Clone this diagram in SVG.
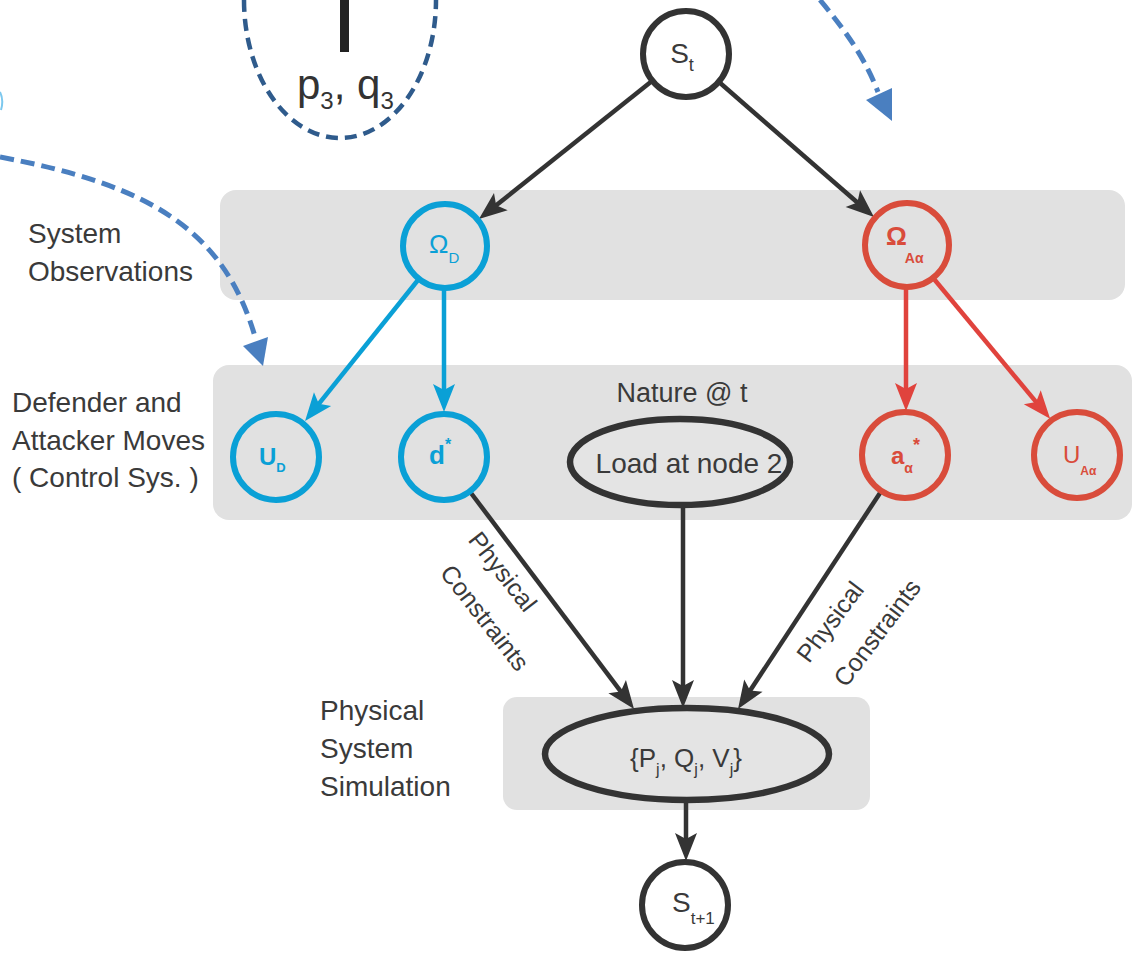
<svg xmlns="http://www.w3.org/2000/svg" width="1134" height="953" viewBox="0 0 1134 953">
<defs>
<style>
.band{fill:#e1e1e1}
.lbl{font-family:"Liberation Sans",Arial,sans-serif;font-size:28px;fill:#3a3a3a}
.ctr{font-family:"Liberation Sans",Arial,sans-serif;fill:#3a3a3a;text-anchor:middle}
.dk{fill:none;stroke:#333;stroke-width:6}
.bl{fill:none;stroke:#0aa0d6;stroke-width:6}
.rd{fill:none;stroke:#d94c3b;stroke-width:6}
.ln{stroke-width:4.5;fill:none}
.dash{fill:none;stroke:#4a7fc0;stroke-width:5;stroke-dasharray:14 7}
</style>
<marker id="ak" viewBox="0 -12 30 24" refX="16" refY="0" markerWidth="30" markerHeight="24" markerUnits="userSpaceOnUse" orient="auto"><path d="M30,0 L2,-11 L8,0 L2,11 Z" fill="#333"/></marker>
<marker id="ab" viewBox="0 -12 30 24" refX="16" refY="0" markerWidth="30" markerHeight="24" markerUnits="userSpaceOnUse" orient="auto"><path d="M30,0 L2,-11 L8,0 L2,11 Z" fill="#0aa0d6"/></marker>
<marker id="ar" viewBox="0 -12 30 24" refX="16" refY="0" markerWidth="30" markerHeight="24" markerUnits="userSpaceOnUse" orient="auto"><path d="M30,0 L2,-11 L8,0 L2,11 Z" fill="#e0433d"/></marker>
</defs>
<rect width="1134" height="953" fill="#ffffff"/>

<g id="bands">
<rect class="band" x="220" y="190" width="905" height="110" rx="16"/>
<rect class="band" x="213" y="365" width="919" height="155" rx="16"/>
<rect class="band" x="503" y="697" width="367" height="113" rx="14"/>
</g>

<g id="top-fragment">
<path d="M244,0 A96,138 0 0 0 436,0" fill="none" stroke="#2f5b8c" stroke-width="4.5" stroke-dasharray="12 7"/>
<rect x="340" y="0" width="9" height="52" fill="#222"/>
<text x="297" y="99" font-family="Liberation Sans,Arial,sans-serif" font-size="42" fill="#333">p<tspan font-size="24" dy="10">3</tspan><tspan dy="-10">, q</tspan><tspan font-size="24" dy="10">3</tspan></text>
<path d="M0,92 Q4,100 1,110" fill="none" stroke="#7cc8ee" stroke-width="2"/>
</g>

<g id="side-labels">
<text class="lbl" x="28" y="243">System</text>
<text class="lbl" x="28" y="281">Observations</text>
<text class="lbl" x="12" y="412">Defender and</text>
<text class="lbl" x="12" y="450">Attacker Moves</text>
<text class="lbl" x="12" y="487">( Control Sys. )</text>
<text class="lbl" x="320" y="720">Physical</text>
<text class="lbl" x="320" y="758">System</text>
<text class="lbl" x="320" y="796">Simulation</text>
</g>

<g id="connectors">
<line class="ln" stroke="#333" x1="652" y1="81" x2="489.9" y2="210.3" marker-end="url(#ak)"/>
<line class="ln" stroke="#333" x1="719" y1="82" x2="863.4" y2="207.8" marker-end="url(#ak)"/>
<line class="ln" stroke="#0aa0d6" x1="418" y1="280" x2="313.8" y2="410.1" marker-end="url(#ab)"/>
<line class="ln" stroke="#0aa0d6" x1="444" y1="289" x2="444" y2="398" marker-end="url(#ab)"/>
<line class="ln" stroke="#e0433d" x1="906" y1="289" x2="906" y2="397" marker-end="url(#ar)"/>
<line class="ln" stroke="#e0433d" x1="934" y1="279" x2="1041.2" y2="408.1" marker-end="url(#ar)"/>
<line class="ln" stroke="#333" x1="471" y1="493" x2="625.6" y2="697.8" marker-end="url(#ak)"/>
<line class="ln" stroke="#333" x1="683" y1="506" x2="683" y2="694" marker-end="url(#ak)"/>
<line class="ln" stroke="#333" x1="880" y1="493" x2="745.7" y2="697.3" marker-end="url(#ak)"/>
<line class="ln" stroke="#333" x1="686" y1="800" x2="686" y2="847" marker-end="url(#ak)"/>
<path class="dash" d="M0,157 C150,185 225,230 256,340"/>
<polygon points="263,366 243,346 268,337" fill="#4a7fc0"/>
<path class="dash" d="M820,0 C845,30 865,58 878,92"/>
<polygon points="892,121 866,100 892,88" fill="#4a7fc0"/>
<text class="ctr" font-size="25" transform="translate(496,577) rotate(52)">Physical</text>
<text class="ctr" font-size="25" transform="translate(478,623) rotate(52)">Constraints</text>
<text class="ctr" font-size="25" transform="translate(837,627) rotate(-53)">Physical</text>
<text class="ctr" font-size="25" transform="translate(884,638) rotate(-53)">Constraints</text>
</g>

<g id="node-St">
<circle class="dk" cx="686" cy="54" r="43" style="fill:#fff"/>
<text class="ctr" x="682" y="63" font-size="28">S<tspan font-size="18" dy="8">t</tspan></text>
</g>

<g id="node-OmegaD">
<circle class="bl" cx="445" cy="246" r="42"/>
<text x="429" y="253" font-family="Liberation Sans,Arial,sans-serif" font-size="26" fill="#0aa0d6">Ω<tspan font-size="15" dy="10">D</tspan></text>
</g>

<g id="node-OmegaA">
<circle class="rd" cx="907" cy="245" r="42"/>
<text x="886" y="245" font-family="Liberation Sans,Arial,sans-serif" font-size="26" font-weight="bold" fill="#d94c3b">Ω<tspan font-size="14" dy="18" dx="-2">Aα</tspan></text>
</g>

<g id="node-UD">
<circle class="bl" cx="276" cy="457" r="43"/>
<text x="259" y="465" font-family="Liberation Sans,Arial,sans-serif" font-size="24" font-weight="bold" fill="#0aa0d6">U<tspan font-size="13" dy="7">D</tspan></text>
</g>

<g id="node-dstar">
<circle class="bl" cx="444" cy="457" r="43"/>
<text x="429" y="464" font-family="Liberation Sans,Arial,sans-serif" font-size="26" font-weight="bold" fill="#0aa0d6">d<tspan font-size="16" dy="-14">*</tspan></text>
</g>

<g id="node-Load">
<text class="ctr" x="682" y="402" font-size="27">Nature @ t</text>
<ellipse cx="680" cy="462" rx="110" ry="43" fill="#e4e4e4" stroke="#333" stroke-width="6.5"/>
<text class="ctr" x="689" y="473" font-size="28">Load at node 2</text>
</g>

<g id="node-astar">
<circle class="rd" cx="905" cy="455" r="43"/>
<text x="891" y="464" font-family="Liberation Sans,Arial,sans-serif" font-size="24" font-weight="bold" fill="#d94c3b">a<tspan font-size="14" dy="9">α</tspan><tspan font-size="18" dy="-22">*</tspan></text>
</g>

<g id="node-UA">
<circle class="rd" cx="1077" cy="455" r="43"/>
<text x="1063" y="463" font-family="Liberation Sans,Arial,sans-serif" font-size="24" fill="#d94c3b">U<tspan font-size="12" font-weight="bold" dy="12">Aα</tspan></text>
</g>

<g id="node-PQV">
<ellipse cx="687" cy="754" rx="142" ry="46" fill="#e4e4e4" stroke="#333" stroke-width="6.5"/>
<text class="ctr" x="686" y="767" font-size="26">{P<tspan font-size="16" dy="8">j</tspan><tspan dy="-8">, Q</tspan><tspan font-size="16" dy="8">j</tspan><tspan dy="-8">, V</tspan><tspan font-size="16" dy="8">j</tspan><tspan dy="-8">}</tspan></text>
</g>

<g id="node-St1">
<circle class="dk" cx="685" cy="905" r="43" style="fill:#fff"/>
<text x="672" y="912" font-family="Liberation Sans,Arial,sans-serif" font-size="28" fill="#3a3a3a">S<tspan font-size="17" dy="12">t+1</tspan></text>
</g>
</svg>
